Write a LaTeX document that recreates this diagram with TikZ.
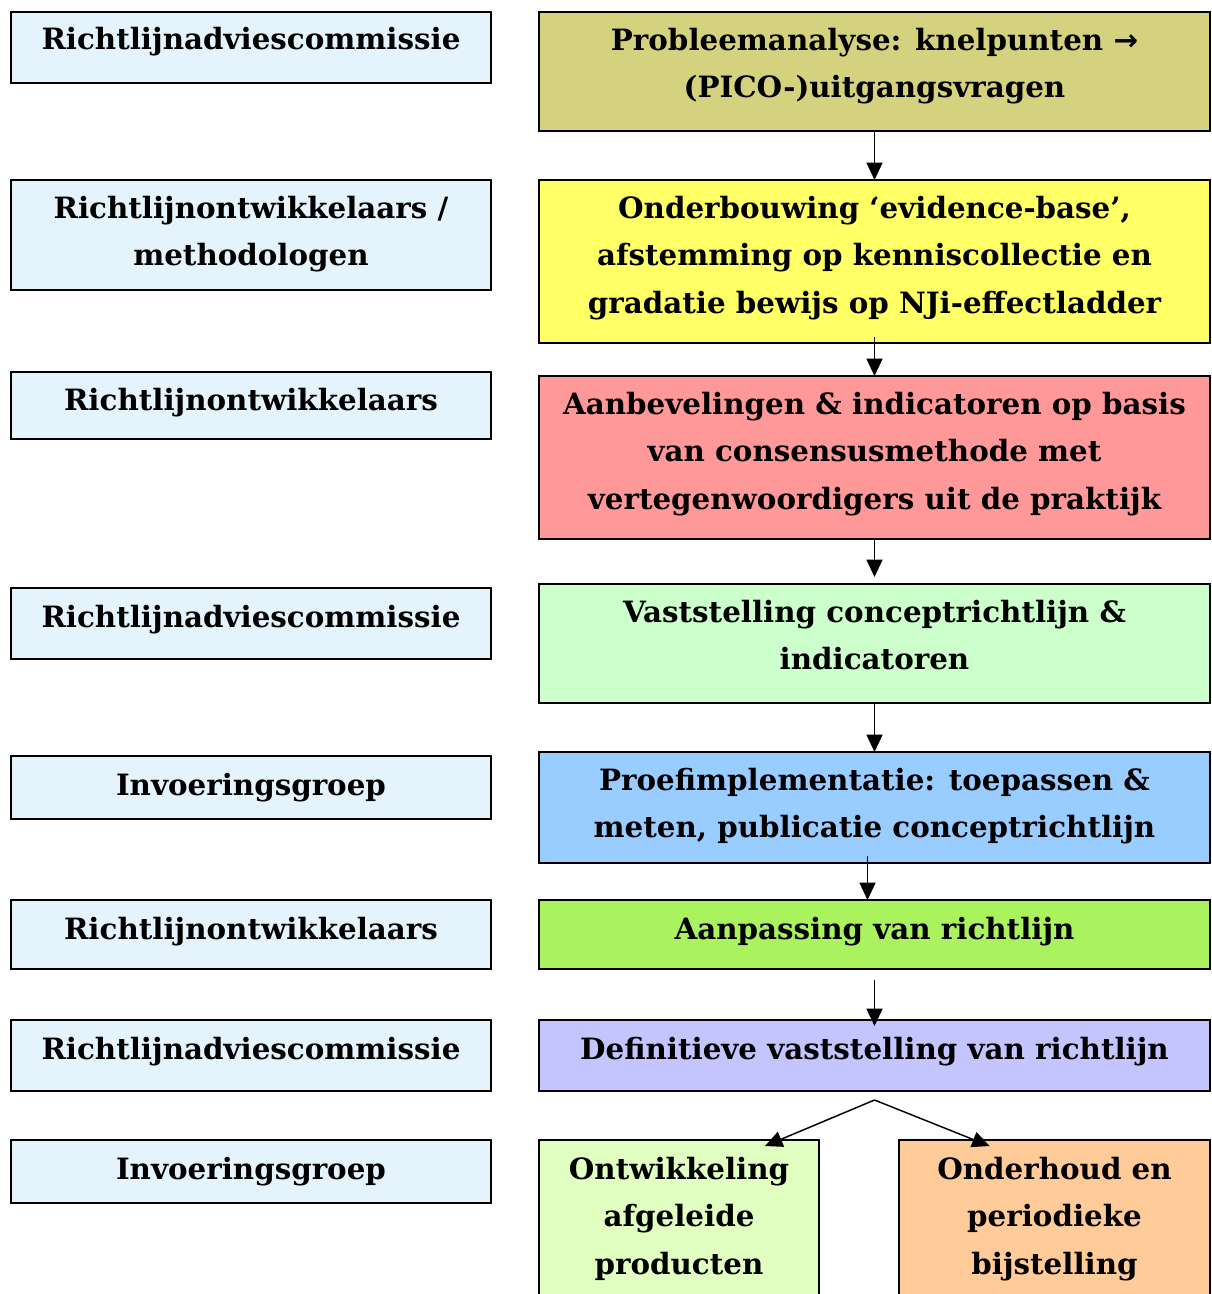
\documentclass[tikz,border=0pt]{standalone}
\usepackage{fontspec}
\setmainfont{DejaVu Serif}[BoldFont={DejaVu Serif Bold}]
\newfontfamily\arrowfont{DejaVu Sans}[BoldFont={DejaVu Sans Bold}]
\usetikzlibrary{arrows.meta,calc,fit}
\definecolor{cleft}{HTML}{E5F3FC}
\definecolor{cone}{HTML}{D5D27F}
\definecolor{ctwo}{HTML}{FFFF66}
\definecolor{cthree}{HTML}{FF9999}
\definecolor{cfour}{HTML}{CCFFCC}
\definecolor{cfive}{HTML}{99CCFF}
\definecolor{csix}{HTML}{AAF25E}
\definecolor{cseven}{HTML}{C4C4FF}
\definecolor{ceighta}{HTML}{E0FFC0}
\definecolor{ceightb}{HTML}{FFCC99}
\begin{document}
\begin{tikzpicture}[x=0.75pt,y=-0.75pt,
  box/.style={draw=black, line width=1.4pt, inner sep=0pt, outer sep=0pt},
  txt/.style={font=\bfseries\fontsize{22}{35.6}\selectfont, align=center, anchor=base, inner sep=0pt},
  arr/.style={line width=1.1pt, -{Triangle[length=13pt,width=12pt]}}]
\useasboundingbox (0,0) rectangle (1211,1294);
% left column
\node[box, fill=cleft, fit={(11,12)(491,83)}] (l1) {};
\node[box, fill=cleft, fit={(11,180)(491,290)}] (l2) {};
\node[box, fill=cleft, fit={(11,372)(491,439)}] (l3) {};
\node[box, fill=cleft, fit={(11,588)(491,659)}] (l4) {};
\node[box, fill=cleft, fit={(11,756)(491,819)}] (l5) {};
\node[box, fill=cleft, fit={(11,900)(491,969)}] (l6) {};
\node[box, fill=cleft, fit={(11,1020)(491,1091)}] (l7) {};
\node[box, fill=cleft, fit={(11,1140)(491,1203)}] (l8) {};
\node[txt] (l1t) at ($(l1.north)+(0,38)$) {Richtlijnadviescommissie};
\node[txt] (l2t) at ($(l2.north)+(0,85.5)$) {Richtlijnontwikkelaars /\\methodologen};
\node[txt] (l3t) at ($(l3.north)+(0,38)$) {Richtlijnontwikkelaars};
\node[txt] (l4t) at ($(l4.north)+(0,39)$) {Richtlijnadviescommissie};
\node[txt] (l5t) at ($(l5.north)+(0,39)$) {Invoeringsgroep};
\node[txt] (l6t) at ($(l6.north)+(0,39)$) {Richtlijnontwikkelaars};
\node[txt] (l7t) at ($(l7.north)+(0,39)$) {Richtlijnadviescommissie};
\node[txt] (l8t) at ($(l8.north)+(0,39)$) {Invoeringsgroep};
% right column
\node[box, fill=cone, fit={(539,12)(1210,131)}] (r1) {};
\node[box, fill=ctwo, fit={(539,180)(1210,343)}] (r2) {};
\node[box, fill=cthree, fit={(539,376)(1210,539)}] (r3) {};
\node[box, fill=cfour, fit={(539,584)(1210,703)}] (r4) {};
\node[box, fill=cfive, fit={(539,752)(1210,863)}] (r5) {};
\node[box, fill=csix, fit={(539,900)(1210,969)}] (r6) {};
\node[box, fill=cseven, fit={(539,1020)(1210,1091)}] (r7) {};
\node[box, fill=ceighta, fit={(539,1140)(819,1320)}] (r8a) {};
\node[box, fill=ceightb, fit={(899,1140)(1210,1320)}] (r8b) {};
\node[txt] (r1t) at ($(r1.north)+(0,85.5)$) {Probleemanalyse: knelpunten {\arrowfont\bfseries →}\\(PICO-)uitgangsvragen};
\node[txt] (r2t) at ($(r2.north)+(0,133)$) {Onderbouwing ‘evidence-base’,\\afstemming op kenniscollectie en\\gradatie bewijs op NJi-effectladder};
\node[txt] (r3t) at ($(r3.north)+(0,133)$) {Aanbevelingen \& indicatoren op basis\\van consensusmethode met\\vertegenwoordigers uit de praktijk};
\node[txt] (r4t) at ($(r4.north)+(0,85.5)$) {Vaststelling conceptrichtlijn \&\\indicatoren};
\node[txt] (r5t) at ($(r5.north)+(0,85.5)$) {Proefimplementatie: toepassen \&\\meten, publicatie conceptrichtlijn};
\node[txt] (r6t) at ($(r6.north)+(0,39)$) {Aanpassing van richtlijn};
\node[txt] (r7t) at ($(r7.north)+(0,39)$) {Definitieve vaststelling van richtlijn};
\node[txt] (r8at) at ($(r8a.north)+(0,134)$) {Ontwikkeling\\afgeleide\\producten};
\node[txt] (r8bt) at ($(r8b.north)+(0,134)$) {Onderhoud en\\periodieke\\bijstelling};
% arrows
\draw[arr] (r1.south) -- (r2.north);
\draw[arr] ($(r2.south)+(0,-6)$) -- (r3.north);
\draw[arr] (r3.south) -- ($(r4.north)+(0,-7)$);
\draw[arr] (r4.south) -- (r5.north);
\draw[arr] ($(r5.south)+(-7,-7)$) -- ($(r6.north)+(-7,0)$);
\draw[arr] ($(r6.south)+(0,11)$) -- ($(r7.north)+(0,6)$);
\coordinate (split) at ($(r7.south)+(0,9)$);
\draw[arr] (split) -- ($(r8a.north)+(86,6)$);
\draw[arr] (split) -- ($(r8b.north)+(-65,6)$);
\end{tikzpicture}
\end{document}
